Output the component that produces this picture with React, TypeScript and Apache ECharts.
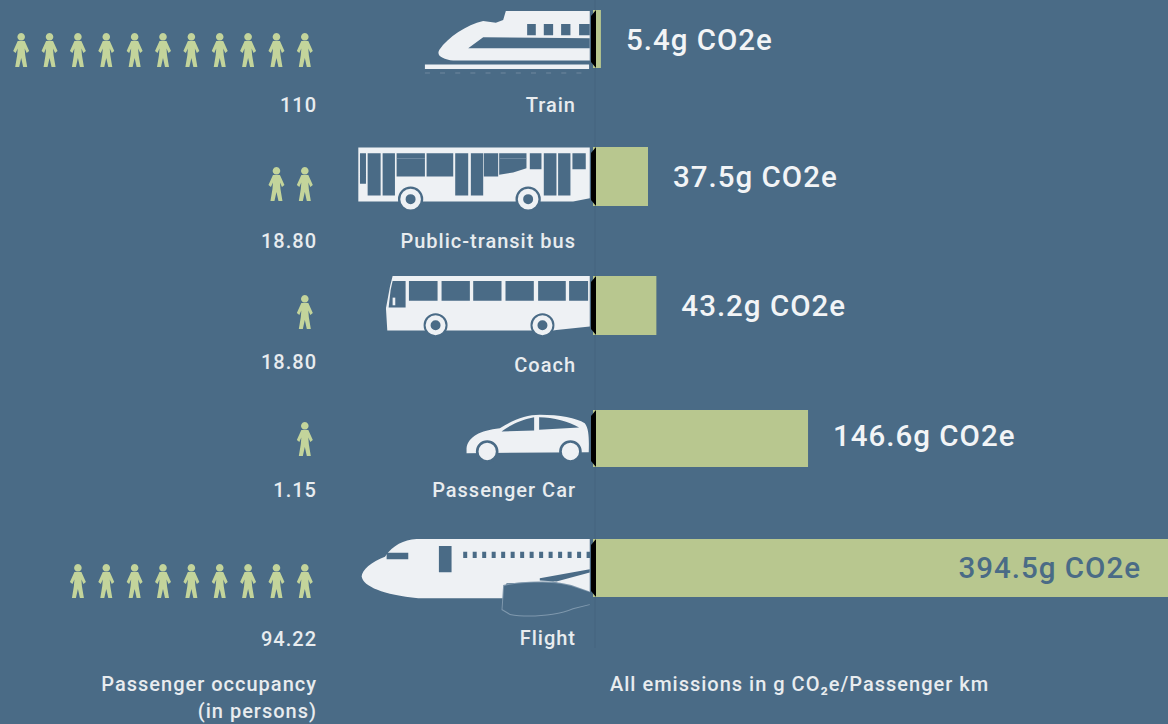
import React, { useEffect, useRef } from "react";
import * as echarts from "echarts";

const categories = ["Train", "Public-transit bus", "Coach", "Passenger Car", "Flight"];
const emissions = [5.4, 37.5, 43.2, 146.6, 394.5];
const occupancyLabels = ["110", "18.80", "18.80", "1.15", "94.22"];
const personIcons = [11, 2, 1, 1, 9];
const footerLeft = ["Passenger occupancy", "(in persons)"];
const footerRight = "All emissions in g CO₂e/Passenger km";

const BG = "#4a6b86";
const BAR = "#b8c78f";
const PERSON = "#c3d49b";
const WHITE = "#eef1f4";
const TEXT = "#e8ecef";

// row layout (pixels)
const barTops = [10, 147, 276, 410, 539];
const barHeights = [58, 59, 59, 57, 58];
const labelShift = [1, 0, 0, -3, 0];
const peopleCenters = [50, 184, 312, 439, 581];
const occupancyY = [105, 241, 362, 490, 639];
const categoryY = [105, 241, 365, 490, 638];

const PERSON_PATH =
  "path://M8 0a3.8 3.8 0 1 1-0.01 0ZM4.5 8L11.5 8L16 18L13.5 20L11.5 15.5L12 22L14 34L10 34L8 25L6 34L2 34L4 22L4.5 15.5L2.5 20L0 18Z";

const rect = (x1: number, y1: number, x2: number, y2: number) =>
  `M${x1} ${y1}L${x2} ${y1}L${x2} ${y2}L${x1} ${y2}Z`;
const circle = (cx: number, cy: number, r: number) =>
  `M${cx - r} ${cy}A${r} ${r} 0 1 1 ${cx + r} ${cy}A${r} ${r} 0 1 1 ${cx - r} ${cy}Z`;
const wheels = (pts: number[][], outer: number, mid: number, inner: number) => [
  [BG, pts.map((p) => circle(p[0], p[1], outer)).join("")],
  [WHITE, pts.map((p) => circle(p[0], p[1], mid)).join("")],
  ...(inner ? [[BG, pts.map((p) => circle(p[0], p[1], inner)).join("")]] : []),
];

const planeWindows = Array.from({ length: 14 }, (_, i) => rect(370 + i * 28.5, 95, 382 + i * 28.5, 114)).join("");
const trackDashes = Array.from({ length: 11 }, (_, i) => rect(255 + i * 45.5, 218, 270 + i * 45.5, 221)).join("");

const icons: { name: string; x: number; y: number; layers: any[] }[] = [
  {
    name: "train", x: 340, y: 0,
    layers: [
      [WHITE, "M750 33L498 33L490 60L468 68L430 63C380 75 325 110 298 150C288 168 310 178 340 182L750 182Z"],
      [BG, rect(562, 72, 588, 106) + rect(612, 72, 640, 106) + rect(664, 72, 692, 106) + rect(718, 72, 750, 106) + "M385 145L430 112L750 115L750 145Z"],
      [WHITE, rect(255, 194, 748, 207)],
      ["#6f889e", trackDashes],
    ],
  },
  {
    name: "bus", x: 340, y: 0,
    layers: [
      [WHITE, "M55 443L750 443L750 595L700 605L55 605Z"],
      [BG,
        rect(60, 460, 78, 552) + rect(83, 460, 122, 587) + rect(128, 460, 165, 587) + rect(170, 460, 255, 530) +
        rect(260, 460, 340, 530) + rect(346, 460, 385, 587) + rect(393, 460, 430, 587) + rect(432, 460, 475, 530) +
        "M478 460L560 460L560 505L520 518L478 525Z" + rect(570, 460, 605, 508) + rect(612, 460, 650, 587) +
        rect(655, 460, 692, 587) + rect(698, 460, 738, 508)],
      ["#8fa6ba", rect(170, 475, 255, 477) + rect(480, 475, 560, 477)],
      ...wheels([[212, 598], [565, 598]], 38, 31, 15),
    ],
  },
  {
    name: "coach", x: 340, y: 260,
    layers: [
      [WHITE, "M158 48L750 48L750 200L650 210L640 212L142 212L138 145L150 80Z"],
      [BG,
        "M158 63L197 63L197 143L146 143L152 90Z" + rect(207, 63, 293, 122) + rect(305, 63, 390, 122) +
        rect(400, 63, 485, 122) + rect(497, 63, 582, 122) + rect(595, 63, 678, 122) + rect(688, 63, 745, 122)],
      [WHITE, rect(158, 113, 166, 136)],
      ...wheels([[287, 196], [608, 196]], 36, 30, 15),
    ],
  },
  {
    name: "car", x: 340, y: 260,
    layers: [
      [WHITE, "M380 565C385 530 420 512 480 505C520 480 560 465 600 465C660 465 710 475 735 490C748 505 748 540 747 577L380 580Z"],
      [BG, "M485 515C510 495 550 478 583 472L583 512ZM598 472C640 472 690 485 718 503L598 510Z"],
      ...wheels([[442, 575], [692, 575]], 34, 26, 0),
    ],
  },
  {
    name: "plane", x: 340, y: 520,
    layers: [
      [WHITE, "M750 57L230 57C190 60 160 75 135 110C95 125 65 150 65 170C70 200 130 225 235 235L490 235L500 190L640 185L750 218Z"],
      [BG, rect(140, 98, 205, 118) + rect(297, 78, 335, 157) + planeWindows + "M600 175L750 148L750 158L650 185L600 182Z"],
      ["#7f98ad", "M490 195C540 182 640 180 695 195L750 215L750 255L700 268C650 290 560 295 510 285L485 270Z"],
      [BG, "M493 198C540 185 640 183 694 198L752 218L752 252L699 265C650 287 560 292 511 282L488 268Z"],
    ],
  },
];

// black edge where each vehicle meets its bar
const edgePoints = (top: number, h: number) => [
  [596, top],
  [596, top + h],
  [591, top + h - 6],
  [591, top + 6],
];

export default function App() {
  const ref = useRef<HTMLDivElement>(null);
  useEffect(() => {
    document.body.style.margin = "0";
    const chart = echarts.init(ref.current!, undefined, { renderer: "svg" });

    const graphicEls: any[] = [];
    graphicEls.push({ type: "line", z: 1, shape: { x1: 595, y1: 0, x2: 595, y2: 648 }, style: { stroke: "#45647e", lineWidth: 1 } });
    icons.forEach((ic) => {
      ic.layers.forEach((l, i) => {
        const shapeName = `${ic.name}-${i}`;
        echarts.graphic.registerShape(shapeName, echarts.graphic.extendPath(l[1], {}));
        graphicEls.push({ type: shapeName, x: ic.x, y: ic.y, scaleX: 1 / 3, scaleY: 1 / 3, z: 10 + i, style: { fill: l[0] } });
      });
    });
    barTops.forEach((t, i) => {
      graphicEls.push({ type: "polygon", z: 20, shape: { points: edgePoints(t, barHeights[i]) }, style: { fill: "#000000" } });
    });
    const txt = (text: string, x: number, y: number, align: string, size = 20) => ({
      type: "text", x, y, z: 20,
      style: { text, fill: TEXT, font: `500 ${size}px Roboto`, textAlign: align, textVerticalAlign: "middle" },
    });
    categories.forEach((c, i) => graphicEls.push(txt(c, 576, categoryY[i], "right")));
    occupancyLabels.forEach((c, i) => graphicEls.push(txt(c, 317, occupancyY[i], "right")));
    graphicEls.push(txt(footerLeft[0], 317, 684, "right"));
    graphicEls.push(txt(footerLeft[1], 317, 711, "right"));
    graphicEls.push(txt(footerRight, 610, 684, "left"));

    const grid: any[] = [];
    const xAxis: any[] = [];
    const yAxis: any[] = [];
    const series: any[] = [];
    categories.forEach((c, i) => {
      // emission bar: the axis ends at the page edge, which crops the longest bar
      grid.push({ left: 593, top: barTops[i], right: 0, height: barHeights[i] });
      xAxis.push({ type: "value", gridIndex: grid.length - 1, min: 0, max: 392, show: false });
      yAxis.push({ type: "category", gridIndex: grid.length - 1, data: [c], show: false });
      const isFlight = i === emissions.length - 1;
      series.push({
        type: "bar",
        xAxisIndex: grid.length - 1,
        yAxisIndex: grid.length - 1,
        barWidth: "100%",
        itemStyle: { color: BAR },
        label: {
          show: true,
          position: isFlight ? "insideRight" : "right",
          distance: isFlight ? 27 : 25,
          offset: [0, labelShift[i]],
          formatter: (p: any) => `${p.value}g CO2e`,
          color: isFlight ? BG : "#f2f4f6",
          fontFamily: "Roboto",
          fontWeight: 500,
          fontSize: 29.5,
        },
        data: [emissions[i]],
      });
      // occupancy pictograms, one per slot counted from the right
      grid.push({ left: 7, top: peopleCenters[i] - 17, width: 312, height: 34 });
      xAxis.push({ type: "value", gridIndex: grid.length - 1, min: 0, max: 11, inverse: true, show: false });
      yAxis.push({ type: "value", gridIndex: grid.length - 1, min: 0, max: 1, show: false });
      series.push({
        type: "scatter",
        xAxisIndex: grid.length - 1,
        yAxisIndex: grid.length - 1,
        symbol: PERSON_PATH,
        symbolSize: [16, 34],
        symbolKeepAspect: false,
        itemStyle: { color: PERSON, opacity: 1 },
        data: Array.from({ length: personIcons[i] }, (_, k) => [k + 0.5, 0.5]),
      });
    });

    chart.setOption({
      animation: false,
      backgroundColor: BG,
      grid, xAxis, yAxis, series,
      graphic: { elements: graphicEls },
    });
    return () => chart.dispose();
  }, []);
  return <div ref={ref} style={{ width: 1168, height: 724, letterSpacing: "1px" }} />;
}
